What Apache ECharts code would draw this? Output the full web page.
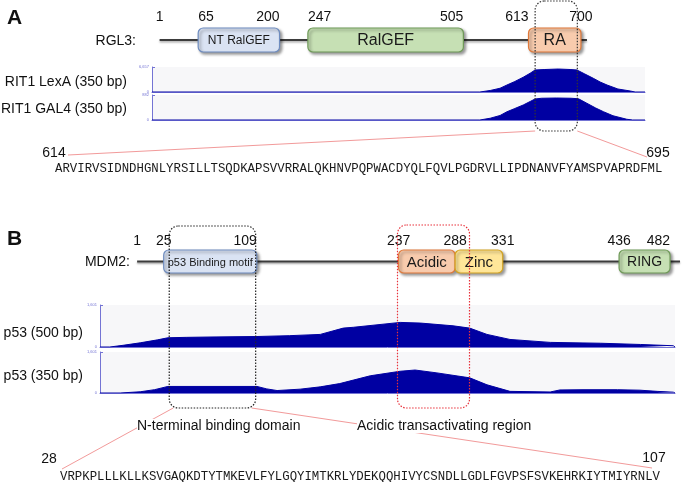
<!DOCTYPE html>
<html>
<head>
<meta charset="utf-8">
<script src="https://cdn.jsdelivr.net/npm/echarts/dist/echarts.min.js"></script>
<style>
  html, body { margin: 0; padding: 0; background: #fff; }
  #main { width: 690px; height: 482px; }
</style>
</head>
<body>
<div id="main"></div>
<script>
// ===== A: RGL3 =====
const rgl3Length = 710
const rgl3Names = ['NT RalGEF', 'RalGEF', 'RA']
const rgl3Start = [65, 247, 613]
const rgl3End = [200, 505, 700]
const rgl3Ticks = [1, 65, 200, 247, 505, 613, 700]
// coverage, x = bin along the track (0-100)
const lexaPos = [0, 66.5, 68.6, 70.6, 72, 73.6, 75.3, 76.7, 77.7, 79.7, 82.4, 84.8, 86.2, 87.8, 89.5, 90.9, 92.3, 94.5, 97, 98, 100]
const lexaReads = [0, 0, 400, 1000, 1860, 2800, 3930, 4990, 5860, 5990, 6120, 5990, 5860, 4790, 3660, 2660, 1860, 800, 270, 0, 0]
const gal4Pos = [0, 66.5, 68.6, 70.6, 72, 73.6, 75.3, 76.7, 77.7, 79, 82, 85, 86.5, 88.2, 90, 91.6, 93.5, 96.3, 97.5, 100]
const gal4Reads = [0, 0, 62, 159, 291, 406, 529, 653, 741, 767, 776, 767, 750, 591, 423, 291, 150, 26, 0, 0]
const lexaMax = 6657
const gal4Max = 882
const rgl3Region = [624, 694]
const rgl3SeqFrom = 614
const rgl3SeqTo = 695
const rgl3Seq = 'ARVIRVSIDNDHGNLYRSILLTSQDKAPSVVRRALQKHNVPQPWACDYQLFQVLPGDRVLLIPDNANVFYAMSPVAPRDFML'

// ===== B: MDM2 =====
const mdm2Length = 491
const mdm2Names = ['p53 Binding motif', 'Acidic', 'Zinc', 'RING']
const mdm2Start = [25, 237, 288, 436]
const mdm2End = [109, 288, 331, 482]
const mdm2Ticks = [1, 25, 109, 237, 288, 331, 436, 482]
const p53LongPos = [0, 1.7, 4, 7, 10, 11.8, 15, 20, 27.3, 33, 38.3, 42.3, 44.1, 52.2, 55.7, 61.4, 64.3, 67.3, 71.3, 78.3, 87, 94, 99.7, 100]
const p53LongReads = [0, 0, 64, 160, 272, 352, 368, 384, 400, 432, 480, 720, 752, 937, 913, 808, 720, 480, 288, 176, 144, 96, 48, 0]
const p53ShortPos = [0, 3.5, 7, 9.5, 11.8, 20, 27.3, 29, 30.8, 34.8, 38.3, 41.7, 47, 52.2, 54.8, 58.6, 64.3, 67.3, 71.3, 78.3, 80, 84, 90, 93.9, 96.9, 99.7, 100]
const p53ShortReads = [0, 0, 48, 130, 256, 256, 256, 160, 96, 150, 240, 368, 672, 849, 897, 785, 592, 320, 64, 40, 120, 128, 128, 110, 64, 32, 0]
const p53Max = 1601
const mdm2Regions = [[30, 108], [236, 301]]
const mdm2RegionNames = ['N-terminal binding domain', 'Acidic transactivating region']
const mdm2SeqFrom = 28
const mdm2SeqTo = 107
const mdm2Seq = 'VRPKPLLLKLLKSVGAQKDTYTMKEVLFYLGQYIMTKRLYDEKQQHIVYCSNDLLGDLFGVPSFSVKEHRKIYTMIYRNLV'

const sans = 'Liberation Sans, Arial, sans-serif'
const mono = 'Liberation Mono, Courier New, monospace'
const blue = '#0000a2'
const axisBlue = '#7474d4'

const chart = echarts.init(document.querySelector('#main'))

// 蛋白结构域
const domainSeries = (idx, starts, ends, names, fills, strokes, sizes) => ({
  type: 'custom',
  xAxisIndex: idx,
  yAxisIndex: idx,
  z: 3,
  data: starts.map((s, i) => [s, ends[i]]),
  renderItem: (params, api) => {
    const i = params.dataIndex
    const p0 = api.coord([api.value(0), 1])
    const p1 = api.coord([api.value(1), 0])
    return {
      type: 'group',
      children: [
        {
          type: 'rect',
          shape: { x: p0[0], y: p0[1], width: p1[0] - p0[0], height: p1[1] - p0[1], r: 5 },
          style: {
            fill: fills[i], stroke: strokes[i], lineWidth: 1.2,
            shadowBlur: 3, shadowOffsetX: 2, shadowOffsetY: 2, shadowColor: 'rgba(0,0,0,0.4)'
          }
        },
        {
          type: 'text',
          style: {
            x: (p0[0] + p1[0]) / 2, y: (p0[1] + p1[1]) / 2 + 1,
            text: names[i], align: 'center', verticalAlign: 'middle',
            fontSize: sizes[i], fontFamily: sans, fill: '#1a1a1a'
          }
        }
      ]
    }
  }
})

// 主链
const backboneSeries = (idx, len) => ({
  type: 'custom',
  xAxisIndex: idx,
  yAxisIndex: idx,
  z: 2,
  data: [[1, len]],
  renderItem: (params, api) => {
    const a = api.coord([api.value(0), 0.5])
    const b = api.coord([api.value(1), 0.5])
    return {
      type: 'line',
      shape: { x1: a[0], y1: a[1], x2: b[0], y2: b[1] },
      style: { stroke: '#3c3c3c', lineWidth: 2.2, shadowBlur: 2, shadowOffsetY: 1.5, shadowColor: 'rgba(0,0,0,0.35)' }
    }
  }
})

// 位点数字
const tickSeries = (idx, ticks, aligns, dy) => ({
  type: 'custom',
  xAxisIndex: idx,
  yAxisIndex: idx,
  z: 4,
  data: ticks.map(v => [v]),
  renderItem: (params, api) => {
    const p = api.coord([api.value(0), 1])
    return {
      type: 'text',
      style: {
        x: p[0], y: p[1] + dy, text: String(api.value(0)),
        align: aligns[params.dataIndex], verticalAlign: 'middle',
        fontSize: 14, fontFamily: sans, fill: '#111'
      }
    }
  }
})

const coverageSeries = (idx, pos, reads) => ({
  type: 'line',
  xAxisIndex: idx,
  yAxisIndex: idx,
  data: pos.map((p, i) => [p, reads[i]]),
  showSymbol: false,
  smooth: false,
  lineStyle: { color: blue, width: 1 },
  areaStyle: { color: blue, opacity: 1 }
})

const domainGrid = (left, top, width, height) => ({ left, top, width, height })
const trackGrid = (left, top, width, height) => ({
  left, top, width, height, show: true, backgroundColor: '#f7f7f9', borderWidth: 0
})

const domainX = (idx, max) => ({
  gridIndex: idx, type: 'value', min: 0, max, show: false
})
const domainY = idx => ({ gridIndex: idx, type: 'value', min: 0, max: 1, show: false })
const trackX = idx => ({
  gridIndex: idx, type: 'value', min: 0, max: 100,
  axisLine: { show: true, lineStyle: { color: axisBlue, width: 1 } },
  axisTick: { show: false }, axisLabel: { show: false }, splitLine: { show: false }
})
const trackY = (idx, max) => ({
  gridIndex: idx, type: 'value', min: 0, max, interval: max,
  axisLine: { show: true, lineStyle: { color: axisBlue } },
  axisTick: { show: true, inside: true, length: 3, lineStyle: { color: axisBlue } },
  axisLabel: { fontSize: 4, color: axisBlue, margin: 3, formatter: v => v.toLocaleString('en-US') },
  splitLine: { show: false }
})

const option = {
  animation: false,
  backgroundColor: '#fff',
  grid: [
    domainGrid(159, 28, 434, 24),
    trackGrid(152, 67, 493, 25),
    trackGrid(152, 95, 493, 25),
    domainGrid(136, 250, 560, 23),
    trackGrid(100, 305, 575, 42),
    trackGrid(100, 352, 575, 41)
  ],
  xAxis: [domainX(0, 720), trackX(1), trackX(2), domainX(3, 500), trackX(4), trackX(5)],
  yAxis: [domainY(0), trackY(1, lexaMax), trackY(2, gal4Max), domainY(3), trackY(4, p53Max), trackY(5, p53Max)],
  series: [
    backboneSeries(0, rgl3Length),
    domainSeries(0, rgl3Start, rgl3End, rgl3Names,
      ['#dae3f3', '#c6e0b4', '#f8cbad'], ['#6e8cbf', '#6f9a58', '#e0793a'], [12, 16, 16]),
    tickSeries(0, rgl3Ticks, ['center', 'left', 'right', 'left', 'right', 'right', 'center'], -10.5),
    coverageSeries(1, lexaPos, lexaReads),
    coverageSeries(2, gal4Pos, gal4Reads),
    backboneSeries(3, mdm2Length),
    domainSeries(3, mdm2Start, mdm2End, mdm2Names,
      ['#dae3f3', '#f8cbad', '#ffe699', '#c6e0b4'], ['#6e8cbf', '#e0793a', '#d3a322', '#6f9a58'], [11, 15, 15, 14]),
    tickSeries(3, mdm2Ticks, ['center', 'center', 'right', 'center', 'center', 'center', 'center', 'right'], -8.5),
    coverageSeries(4, p53LongPos, p53LongReads),
    coverageSeries(5, p53ShortPos, p53ShortReads)
  ]
}
chart.setOption(option)

// 文字和注释框
const txt = (x, y, text, align, size, extra) => ({
  type: 'text', z: 50,
  style: Object.assign({
    x, y, text, align, textAlign: align, verticalAlign: 'middle', textVerticalAlign: 'middle',
    fontSize: size, fontFamily: sans, fill: '#111'
  }, extra || {})
})
const box = (x0, x1, y0, y1, color) => ({
  type: 'rect', z: 60,
  shape: { x: x0, y: y0, width: x1 - x0, height: y1 - y0, r: 9 },
  style: { fill: 'none', stroke: color, lineWidth: 1.2, lineDash: [1.5, 1.5] }
})
const link = (x1, y1, x2, y2) => ({
  type: 'line', z: 40,
  shape: { x1, y1, x2, y2 },
  style: { stroke: '#f29a9a', lineWidth: 1 }
})

const ax = v => chart.convertToPixel({ xAxisIndex: 0 }, v)
const bx = v => chart.convertToPixel({ xAxisIndex: 3 }, v)
const aL = ax(rgl3Region[0]), aR = ax(rgl3Region[1])
const b1L = bx(mdm2Regions[0][0]), b1R = bx(mdm2Regions[0][1])
const b2L = bx(mdm2Regions[1][0]), b2R = bx(mdm2Regions[1][1])

chart.setOption({
  graphic: [
    txt(7, 18, 'A', 'left', 21, { fontWeight: 'bold' }),
    txt(136, 41, 'RGL3:', 'right', 14),
    txt(127, 82, 'RIT1 LexA (350 bp)', 'right', 14),
    txt(127, 109, 'RIT1 GAL4 (350 bp)', 'right', 14),
    link(aL, 131, 68, 155),
    link(aR, 131, 647, 157),
    box(aL, aR, 1, 131, '#333'),
    txt(54, 153, String(rgl3SeqFrom), 'center', 14),
    txt(658, 153, String(rgl3SeqTo), 'center', 14),
    txt(55, 169, rgl3Seq, 'left', 12.35, { fontFamily: mono, fill: '#1a1a1a' }),

    txt(7, 239, 'B', 'left', 21, { fontWeight: 'bold' }),
    txt(130, 262, 'MDM2:', 'right', 14),
    txt(83, 333, 'p53 (500 bp)', 'right', 14),
    txt(83, 376, 'p53 (350 bp)', 'right', 14),
    link(b1L + 4, 408, 62, 469),
    link(b1R - 4, 408, 652, 468),
    box(b1L, b1R, 226, 408, '#222'),
    box(b2L, b2R, 225, 408, '#e8303a'),
    txt(137, 426, mdm2RegionNames[0], 'left', 14, { backgroundColor: '#fff' }),
    txt(357, 426, mdm2RegionNames[1], 'left', 14, { backgroundColor: '#fff' }),
    txt(49, 459, String(mdm2SeqFrom), 'center', 14),
    txt(654, 458, String(mdm2SeqTo), 'center', 14),
    txt(60, 477, mdm2Seq, 'left', 12.35, { fontFamily: mono, fill: '#1a1a1a' })
  ]
})
</script>
</body>
</html>
